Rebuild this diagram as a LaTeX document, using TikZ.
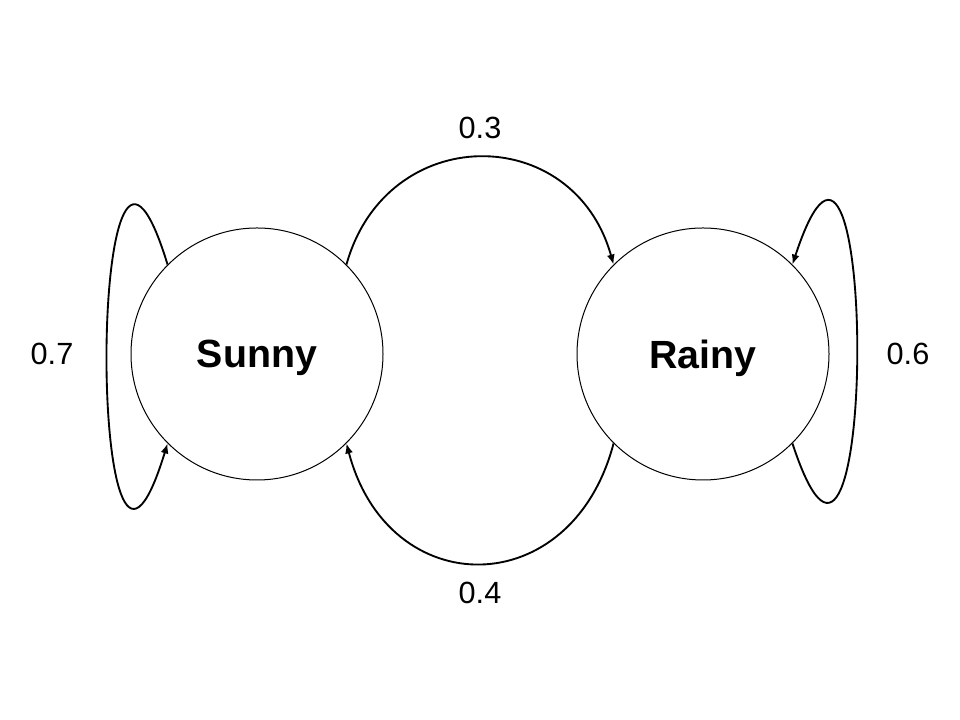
\documentclass[tikz,border=0pt]{standalone}
\usepackage{fontspec}
\setmainfont{Liberation Sans}
\usetikzlibrary{arrows.meta}

\begin{document}
\begin{tikzpicture}[x=0.75pt, y=0.75pt]
  \tikzset{statestyle/.style={draw, circle, line width=0.75pt, minimum size=189pt, inner sep=0pt, text depth=0pt, font=\fontsize{29.5}{34}\selectfont\bfseries},
           transstyle/.style={line width=1.4pt, -{Latex[length=7.5pt, width=6pt]}},
           probstyle/.style={font=\fontsize{23}{27}\selectfont}}
  \useasboundingbox (0,0) rectangle (960,720);
  % the two states
  \node[statestyle] (sunny) at (257,366) {Sunny};
  \node[statestyle] (rainy) at (703,366) {Rainy};
  % transitions between the states
  \draw[transstyle] (sunny.45) .. controls +(40,143) and +(-40,143) .. (rainy.135);
  \draw[transstyle] (rainy.-135) .. controls +(-42,-160) and +(42,-160) .. (sunny.-45);
  % self loops
  \draw[transstyle] (sunny.135) .. controls +(-81,265) and +(-81,-265) .. (sunny.-135);
  \draw[transstyle] (rainy.-45) .. controls +(86,-262) and +(86,262) .. (rainy.45);
  % probabilities
  \node[probstyle] (psr) at (480,592) {0.3};
  \node[probstyle] (prs) at (480,127) {0.4};
  \node[probstyle] (pss) at (52,366) {0.7};
  \node[probstyle] (prr) at (908,366) {0.6};
\end{tikzpicture}
\end{document}
